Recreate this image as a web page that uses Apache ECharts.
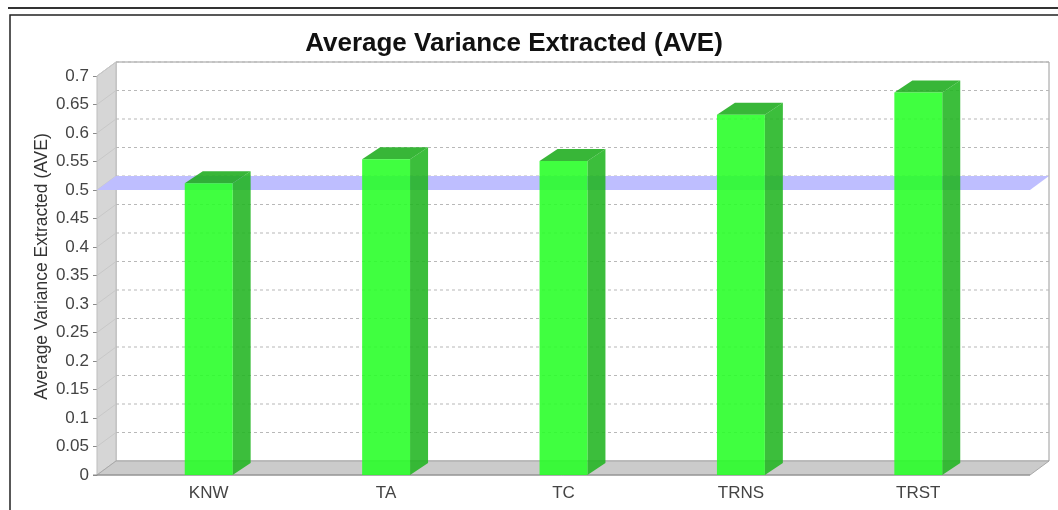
<!DOCTYPE html>
<html>
<head>
<meta charset="utf-8">
<title>Average Variance Extracted (AVE)</title>
<script src="https://cdn.jsdelivr.net/npm/echarts@6/dist/echarts.min.js"></script>
<style>
  html, body { margin: 0; padding: 0; background: #fff; }
  #cont { width: 1058px; height: 510px; }
</style>
</head>
<body>
<div id="cont"></div>
<script>
// data
var categories = ['KNW', 'TA', 'TC', 'TRNS', 'TRST'];
var aveValues = [0.512, 0.554, 0.551, 0.632, 0.671];
var yTicks = [0, 0.05, 0.1, 0.15, 0.2, 0.25, 0.3, 0.35, 0.4, 0.45, 0.5, 0.55, 0.6, 0.65, 0.7];
var threshold = 0.5;

var FONT = 'Liberation Sans, Arial, sans-serif';
var SIDE = 23;            // plot margin outside the category band
var WALL = { dx: 19, dy: 14 };
var BAR = { dx: 18, dy: 12 };

var myChart = echarts.init(document.getElementById('cont'));

// walls, floor, dashed grid on the back wall and the 0.5 marker band
function renderPlot(params, api) {
  var cs = params.coordSys;
  var fl = cs.x - SIDE, fr = cs.x + cs.width + SIDE;
  var y0 = api.coord([0, 0])[1];
  var yTop = api.coord([0, yTicks[yTicks.length - 1]])[1];
  var ym = api.coord([0, threshold])[1];
  var kids = [];

  kids.push({ type: 'rect', shape: { x: fl + WALL.dx, y: yTop - WALL.dy, width: fr - fl, height: y0 - yTop },
    style: { fill: '#fff', stroke: '#9a9a9a', lineWidth: 1 } });

  yTicks.forEach(function (v) {
    if (v === 0) return;
    var y = api.coord([0, v])[1];
    kids.push({ type: 'line', shape: { x1: fl + WALL.dx, y1: y - WALL.dy, x2: fr + WALL.dx, y2: y - WALL.dy },
      style: { stroke: '#b8b8b8', lineWidth: 1, lineDash: [3, 3] } });
  });

  kids.push({ type: 'polygon', shape: { points: [[fl, yTop], [fl + WALL.dx, yTop - WALL.dy], [fl + WALL.dx, y0 - WALL.dy], [fl, y0]] },
    style: { fill: '#d6d6d6', stroke: '#bdbdbd', lineWidth: 1 } });
  yTicks.forEach(function (v) {
    var y = api.coord([0, v])[1];
    kids.push({ type: 'line', shape: { x1: fl, y1: y, x2: fl + WALL.dx, y2: y - WALL.dy },
      style: { stroke: '#c8c8c8', lineWidth: 1 } });
  });

  kids.push({ type: 'polygon', shape: { points: [[fl, y0], [fl + WALL.dx, y0 - WALL.dy], [fr + WALL.dx, y0 - WALL.dy], [fr, y0]] },
    style: { fill: '#cbcbcb', stroke: '#a8a8a8', lineWidth: 1 } });

  kids.push({ type: 'polygon', shape: { points: [[fl, ym], [fl + WALL.dx, ym - WALL.dy], [fr + WALL.dx, ym - WALL.dy], [fr, ym]] },
    style: { fill: 'rgb(190,190,255)' } });

  kids.push({ type: 'line', shape: { x1: fl - 4, y1: y0, x2: fr, y2: y0 },
    style: { stroke: '#8a8a8a', lineWidth: 1 } });

  return { type: 'group', children: kids };
}

function renderBar(params, api) {
  var p = api.coord([api.value(0), api.value(1)]);
  var p0 = api.coord([api.value(0), 0]);
  var w = api.size([1, 0])[0] * 0.27;
  var x = p[0] - w / 2;
  return {
    type: 'group',
    children: [
      { type: 'polygon', shape: { points: [[x + w, p[1]], [x + w + BAR.dx, p[1] - BAR.dy], [x + w + BAR.dx, p0[1] - BAR.dy], [x + w, p0[1]]] },
        style: { fill: 'rgb(33,181,33)', opacity: 0.88 } },
      { type: 'polygon', shape: { points: [[x, p[1]], [x + BAR.dx, p[1] - BAR.dy], [x + w + BAR.dx, p[1] - BAR.dy], [x + w, p[1]]] },
        style: { fill: 'rgb(28,172,28)', opacity: 0.88 } },
      { type: 'rect', shape: { x: x, y: p[1], width: w, height: p0[1] - p[1] },
        style: { fill: 'rgb(38,255,38)', opacity: 0.88 } }
    ]
  };
}

var option = {
  animation: false,
  backgroundColor: '#fff',
  textStyle: { fontFamily: FONT },
  title: {
    text: 'Average Variance Extracted (AVE)',
    left: 509,
    textAlign: 'center',
    top: 26,
    textStyle: { fontFamily: FONT, fontSize: 26, fontWeight: 'bold', color: '#111' }
  },
  graphic: [
    { type: 'line', shape: { x1: 8, y1: 8, x2: 1058, y2: 8 }, style: { stroke: '#333', lineWidth: 2 } },
    { type: 'polyline', shape: { points: [[10, 510], [10, 15], [1058, 15]] }, style: { stroke: '#222', lineWidth: 1.5, fill: null } }
  ],
  grid: { left: 120, right: 51, top: 76, bottom: 35 },
  xAxis: {
    type: 'category',
    data: categories,
    axisLine: { show: false },
    axisTick: { show: false },
    axisLabel: { fontFamily: FONT, fontSize: 17, color: '#444', margin: 10 }
  },
  yAxis: {
    type: 'value',
    min: 0,
    max: 0.7,
    interval: 0.05,
    offset: SIDE,
    name: 'Average Variance Extracted (AVE)',
    nameLocation: 'middle',
    nameGap: 46,
    nameMoveOverlap: false,
    nameTextStyle: { fontFamily: FONT, fontSize: 17.5, color: '#333', padding: [0, 0, 0, 18] },
    axisLine: { show: true, lineStyle: { color: '#9a9a9a' } },
    axisTick: { show: true, length: 4, lineStyle: { color: '#8a8a8a' } },
    axisLabel: { fontFamily: FONT, fontSize: 17, color: '#444', margin: 8 },
    splitLine: { show: false }
  },
  series: [
    { type: 'custom', name: 'plot', z: 1, silent: true, renderItem: renderPlot, data: [[0, 0]] },
    { type: 'custom', name: 'AVE', z: 2, renderItem: renderBar,
      encode: { x: 0, y: 1 },
      data: aveValues.map(function (v, i) { return [i, v]; }) }
  ]
};

myChart.setOption(option);
</script>
</body>
</html>
